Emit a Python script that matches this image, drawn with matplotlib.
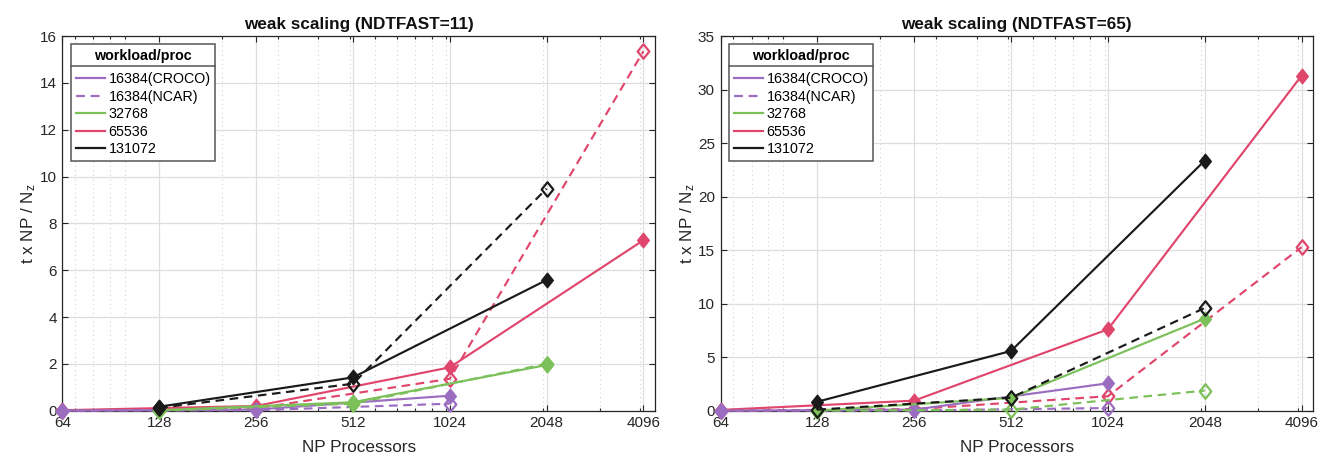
import matplotlib
matplotlib.use("Agg")
import matplotlib.pyplot as plt
from matplotlib.lines import Line2D
from matplotlib.path import Path
from matplotlib.ticker import FixedLocator, LogLocator, NullFormatter, FixedFormatter
from matplotlib.transforms import IdentityTransform

plt.rcParams['font.family'] = ['Liberation Sans', 'DejaVu Sans']
plt.rcParams['mathtext.fontset'] = 'custom'
plt.rcParams['mathtext.rm'] = 'Liberation Sans'
plt.rcParams['mathtext.it'] = 'Liberation Sans'

# ---------------- data ----------------
titles = ["weak scaling (NDTFAST=11)", "weak scaling (NDTFAST=65)"]
xticks = [64, 128, 256, 512, 1024, 2048, 4096]
xtick_labels = ["64", "128", "256", "512", "1024", "2048", "4096"]
legend_labels = ["16384(CROCO)", "16384(NCAR)", "32768", "65536", "131072"]

x16 = [64, 256, 1024]
x32 = [128, 512, 2048]
x65 = [64, 256, 1024, 4096]
x131 = [128, 512, 2048]

# NDTFAST=11
croco_11 = [0.0, 0.05, 0.64]
ncar_11 = [0.0, 0.02, 0.30]
w32_11 = [0.02, 0.36, 1.95]
w32d_11 = [0.0, 0.30, 2.00]
w65_11 = [0.02, 0.20, 1.85, 7.28]
w65d_11 = [0.0, 0.10, 1.36, 15.35]
w131_11 = [0.17, 1.42, 5.58]
w131d_11 = [0.12, 1.15, 9.48]

# NDTFAST=65
croco_65 = [0.0, 0.10, 2.56]
ncar_65 = [0.0, 0.02, 0.25]
w32_65 = [0.0, 1.20, 8.60]
w32d_65 = [0.0, 0.10, 1.88]
w65_65 = [0.07, 0.94, 7.60, 31.30]
w65d_65 = [0.0, 0.15, 1.35, 15.28]
w131_65 = [0.84, 5.58, 23.36]
w131d_65 = [0.10, 1.22, 9.60]

ylims = [(0, 16), (0, 35)]
ysteps = [2, 5]

C_PURPLE = "#9B6DC0"
C_GREEN = "#7CC05A"
C_RED = "#E0466C"
C_BLACK = "#1A1A1A"

diamond = Path([(0, 1), (0.8, 0), (0, -1), (-0.8, 0), (0, 1)],
               [Path.MOVETO, Path.LINETO, Path.LINETO, Path.LINETO, Path.CLOSEPOLY])

fig = plt.figure(figsize=(13.22, 4.58), dpi=100)
W, H = 1322, 458
ax_left_px = [62.3, 720.5]
ax_w_px = 592.7
ax_top_px, ax_bot_px = 36.0, 410.7

panels = [
    dict(croco=croco_11, ncar=ncar_11, w32=w32_11, w32d=w32d_11, w65=w65_11,
         w65d=w65d_11, w131=w131_11, w131d=w131d_11),
    dict(croco=croco_65, ncar=ncar_65, w32=w32_65, w32d=w32d_65, w65=w65_65,
         w65d=w65d_65, w131=w131_65, w131d=w131d_65),
]

legends = []
for i, p in enumerate(panels):
    ax = fig.add_axes([ax_left_px[i] / W, (H - ax_bot_px) / H, ax_w_px / W,
                       (ax_bot_px - ax_top_px) / H])
    ax.set_xscale('log', base=2)
    ax.set_xlim(64, 4450)
    ax.set_ylim(*ylims[i])

    lw = 1.55
    ms = 10.5
    dash = (4.0, 2.6)

    def solid(x, y, c):
        ax.plot(x, y, color=c, lw=lw, marker=diamond, ms=ms, mfc=c, mec=c,
                mew=1.0, zorder=3, clip_on=False)

    def dashed(x, y, c):
        ax.plot(x, y, color=c, lw=lw, ls=(0, dash), marker=diamond, ms=ms,
                mfc='none', mec=c, mew=1.6, zorder=3, clip_on=False)

    solid(x65, p['w65'], C_RED)
    dashed(x65, p['w65d'], C_RED)
    solid(x16, p['croco'], C_PURPLE)
    dashed(x16, p['ncar'], C_PURPLE)
    solid(x32, p['w32'], C_GREEN)
    dashed(x32, p['w32d'], C_GREEN)
    solid(x131, p['w131'], C_BLACK)
    dashed(x131, p['w131d'], C_BLACK)

    ax.xaxis.set_major_locator(FixedLocator(xticks))
    ax.xaxis.set_major_formatter(FixedFormatter(xtick_labels))
    ax.xaxis.set_minor_locator(LogLocator(base=10, subs=[2, 3, 4, 5, 6, 7, 8, 9, 1], numticks=20))
    ax.xaxis.set_minor_formatter(NullFormatter())
    ymax = ylims[i][1]
    ax.set_yticks(list(range(0, ymax + 1, ysteps[i])))

    ax.grid(True, which='major', color='#dedede', lw=0.9, ls='-', zorder=0)
    ax.grid(True, which='minor', axis='x', color='#d2d2d2', lw=0.8, ls=(0, (1, 3)), zorder=0)
    ax.set_axisbelow(True)

    ax.tick_params(which='both', direction='in', top=True, right=True,
                   labelsize=11, colors='#262626', width=0.8)
    ax.tick_params(which='major', length=4.5, pad=4)
    ax.tick_params(which='minor', length=2.2)
    for s in ax.spines.values():
        s.set_color('#262626')
        s.set_linewidth(0.9)

    ax.set_title(titles[i], fontsize=12.3, fontweight='bold', pad=5, color='#111111')
    ax.set_xlabel("NP Processors", fontsize=12.3, color='#262626', labelpad=7)
    ax.set_ylabel(r"t x NP / N$_\mathregular{z}$", fontsize=12.3, color='#262626', labelpad=1)

    handles = [
        Line2D([], [], color=C_PURPLE, lw=1.6),
        Line2D([], [], color=C_PURPLE, lw=1.6, ls=(0, dash)),
        Line2D([], [], color=C_GREEN, lw=1.6),
        Line2D([], [], color=C_RED, lw=1.6),
        Line2D([], [], color=C_BLACK, lw=1.6),
    ]
    leg = ax.legend(handles, legend_labels, loc='upper left',
                    bbox_to_anchor=((71 - ax_left_px[0]) / ax_w_px, 1 - (44 - ax_top_px) / (ax_bot_px - ax_top_px)),
                    borderaxespad=0, fontsize=10.3, title="workload/proc",
                    title_fontproperties={'weight': 'bold', 'size': 10.3},
                    fancybox=False, framealpha=1, edgecolor='#555555',
                    handlelength=2.05, handletextpad=0.25, borderpad=0.32,
                    labelspacing=0.24)
    leg.get_frame().set_linewidth(1.1)
    leg.set_zorder(10)
    leg._legend_box.sep = 7
    legends.append(leg)

fig.canvas.draw()
r = fig.canvas.get_renderer()
for leg in legends:
    fb = leg.get_frame().get_window_extent(r)
    tb = leg.get_title().get_window_extent(r)
    y = tb.y0 - 3.5
    fig.add_artist(Line2D([fb.x0, fb.x1], [y, y], transform=IdentityTransform(),
                          color='#555555', lw=1.1, zorder=11))

fig.savefig("out.png", dpi=100)
